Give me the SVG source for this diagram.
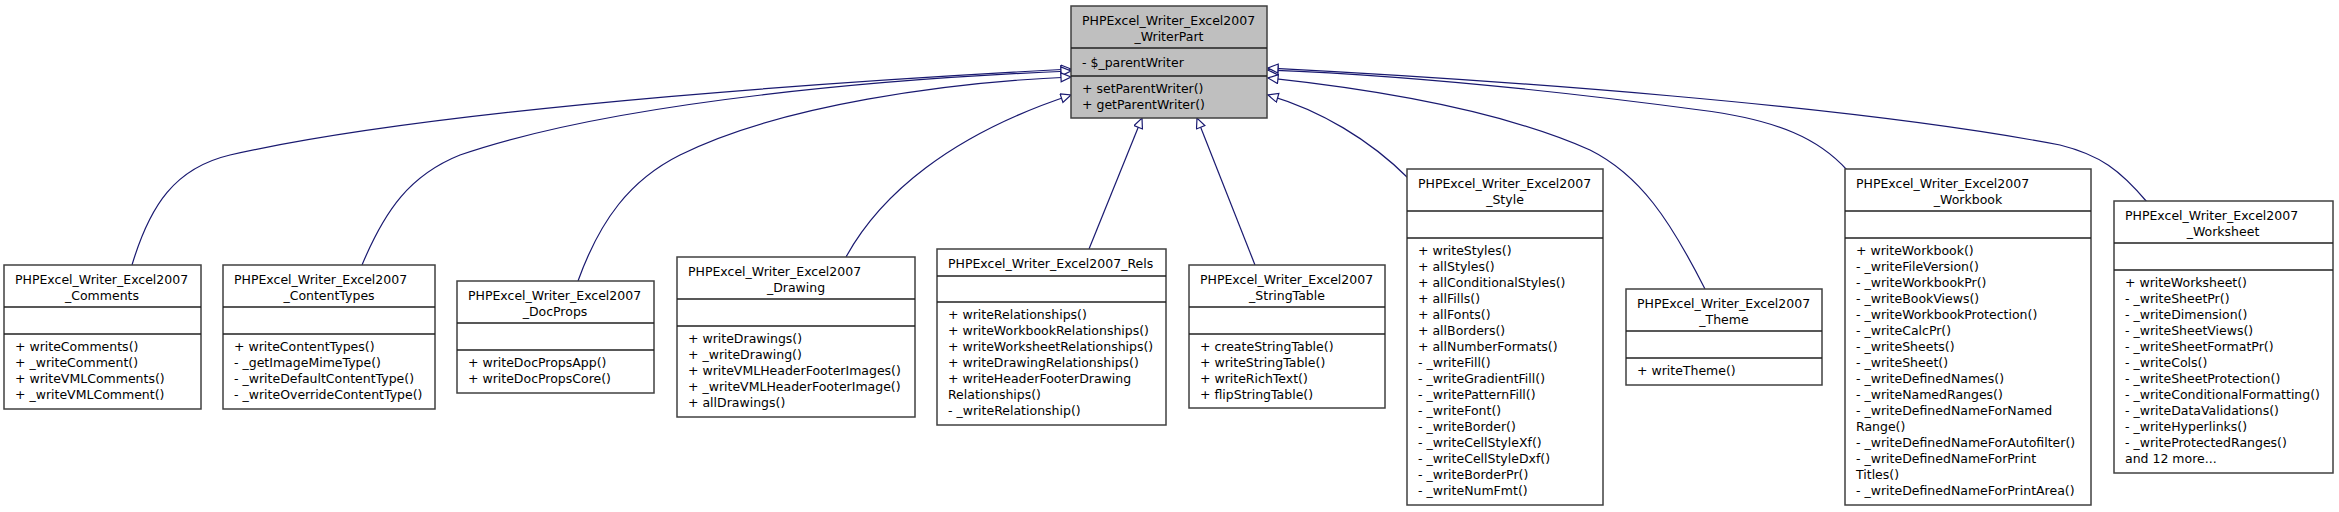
<svg xmlns="http://www.w3.org/2000/svg" width="2339" height="512" viewBox="0 0 2339 512">
<style>
text{font-family:"DejaVu Sans","Liberation Sans",sans-serif;font-size:12.5px;fill:#000}
.c{text-anchor:middle}
.box{fill:#fff;stroke:#404040;stroke-width:1.5}
.base{fill:#bfbfbf}
.sep{stroke:#202020;stroke-width:1.5}
.e{fill:none;stroke:#191970;stroke-width:1.2;marker-end:url(#tri)}
</style>
<defs>
<marker id="tri" markerUnits="userSpaceOnUse" markerWidth="14" markerHeight="12" refX="11" refY="5" orient="auto">
<path d="M1,0.5 L11,5 L1,9.5 Z" fill="#fff" stroke="#191970" stroke-width="1.2"/>
</marker>
</defs>
<g id="connectors">
<path class="e" d="M132,265 C150,205 175,168 230,155 C450,105 900,78 1071,69"/>
<path class="e" d="M362,265 C385,210 410,175 460,155 C620,100 900,78 1071,71"/>
<path class="e" d="M578,281 C600,220 630,180 680,155 C780,105 950,82 1071,77"/>
<path class="e" d="M846,257 C880,195 950,135 1071,95"/>
<path class="e" d="M1089,249 L1142,118"/>
<path class="e" d="M1255,265 L1197,118"/>
<path class="e" d="M1408,178 C1370,140 1320,110 1268,95"/>
<path class="e" d="M1705,289 C1670,220 1640,175 1590,150 C1500,110 1380,90 1268,78"/>
<path class="e" d="M1847,170 C1820,140 1780,120 1700,110 C1550,90 1400,75 1268,70"/>
<path class="e" d="M2147,202 C2120,170 2100,155 2060,145 C1850,105 1500,80 1268,68"/>
</g>
<g id="WriterPart">
<rect class="box base" x="1071" y="6" width="196" height="112"/>
<line class="sep" x1="1071" y1="48" x2="1267" y2="48"/><line class="sep" x1="1071" y1="76" x2="1267" y2="76"/>
<text x="1082" y="24.5">PHPExcel_Writer_Excel2007</text><text class="c" x="1169" y="40.5">_WriterPart</text>
<text x="1082" y="67">- $_parentWriter</text>
<text x="1082" y="93">+ setParentWriter()</text><text x="1082" y="109">+ getParentWriter()</text>
</g>
<g id="Comments">
<rect class="box" x="4" y="265" width="197" height="144"/>
<line class="sep" x1="4" y1="307" x2="201" y2="307"/><line class="sep" x1="4" y1="334" x2="201" y2="334"/>
<text x="15" y="283.5">PHPExcel_Writer_Excel2007</text><text class="c" x="102" y="299.5">_Comments</text>
<text x="15" y="350.5">+ writeComments()</text><text x="15" y="366.5">+ _writeComment()</text><text x="15" y="382.5">+ writeVMLComments()</text><text x="15" y="398.5">+ _writeVMLComment()</text>
</g>
<g id="ContentTypes">
<rect class="box" x="223" y="265" width="212" height="144"/>
<line class="sep" x1="223" y1="307" x2="435" y2="307"/><line class="sep" x1="223" y1="334" x2="435" y2="334"/>
<text x="234" y="283.5">PHPExcel_Writer_Excel2007</text><text class="c" x="329" y="299.5">_ContentTypes</text>
<text x="234" y="350.5">+ writeContentTypes()</text><text x="234" y="366.5">- _getImageMimeType()</text><text x="234" y="382.5">- _writeDefaultContentType()</text><text x="234" y="398.5">- _writeOverrideContentType()</text>
</g>
<g id="DocProps">
<rect class="box" x="457" y="281" width="197" height="112"/>
<line class="sep" x1="457" y1="323" x2="654" y2="323"/><line class="sep" x1="457" y1="350" x2="654" y2="350"/>
<text x="468" y="299.5">PHPExcel_Writer_Excel2007</text><text class="c" x="555" y="315.5">_DocProps</text>
<text x="468" y="366.5">+ writeDocPropsApp()</text><text x="468" y="382.5">+ writeDocPropsCore()</text>
</g>
<g id="Drawing">
<rect class="box" x="677" y="257" width="238" height="160"/>
<line class="sep" x1="677" y1="299" x2="915" y2="299"/><line class="sep" x1="677" y1="326" x2="915" y2="326"/>
<text x="688" y="275.5">PHPExcel_Writer_Excel2007</text><text class="c" x="796" y="291.5">_Drawing</text>
<text x="688" y="342.5">+ writeDrawings()</text><text x="688" y="358.5">+ _writeDrawing()</text><text x="688" y="374.5">+ writeVMLHeaderFooterImages()</text><text x="688" y="390.5">+ _writeVMLHeaderFooterImage()</text><text x="688" y="406.5">+ allDrawings()</text>
</g>
<g id="Rels">
<rect class="box" x="937" y="249" width="229" height="176"/>
<line class="sep" x1="937" y1="276" x2="1166" y2="276"/><line class="sep" x1="937" y1="302" x2="1166" y2="302"/>
<text x="948" y="267.5">PHPExcel_Writer_Excel2007_Rels</text>
<text x="948" y="318.5">+ writeRelationships()</text><text x="948" y="334.5">+ writeWorkbookRelationships()</text><text x="948" y="350.5">+ writeWorksheetRelationships()</text><text x="948" y="366.5">+ writeDrawingRelationships()</text><text x="948" y="382.5">+ writeHeaderFooterDrawing</text><text x="948" y="398.5">Relationships()</text><text x="948" y="414.5">- _writeRelationship()</text>
</g>
<g id="StringTable">
<rect class="box" x="1189" y="265" width="196" height="143"/>
<line class="sep" x1="1189" y1="307" x2="1385" y2="307"/><line class="sep" x1="1189" y1="334" x2="1385" y2="334"/>
<text x="1200" y="283.5">PHPExcel_Writer_Excel2007</text><text class="c" x="1287" y="299.5">_StringTable</text>
<text x="1200" y="350.5">+ createStringTable()</text><text x="1200" y="366.5">+ writeStringTable()</text><text x="1200" y="382.5">+ writeRichText()</text><text x="1200" y="398.5">+ flipStringTable()</text>
</g>
<g id="Style">
<rect class="box" x="1407" y="169" width="196" height="336"/>
<line class="sep" x1="1407" y1="211" x2="1603" y2="211"/><line class="sep" x1="1407" y1="238" x2="1603" y2="238"/>
<text x="1418" y="187.5">PHPExcel_Writer_Excel2007</text><text class="c" x="1505" y="203.5">_Style</text>
<text x="1418" y="254.5">+ writeStyles()</text><text x="1418" y="270.5">+ allStyles()</text><text x="1418" y="286.5">+ allConditionalStyles()</text><text x="1418" y="302.5">+ allFills()</text><text x="1418" y="318.5">+ allFonts()</text><text x="1418" y="334.5">+ allBorders()</text><text x="1418" y="350.5">+ allNumberFormats()</text><text x="1418" y="366.5">- _writeFill()</text><text x="1418" y="382.5">- _writeGradientFill()</text><text x="1418" y="398.5">- _writePatternFill()</text><text x="1418" y="414.5">- _writeFont()</text><text x="1418" y="430.5">- _writeBorder()</text><text x="1418" y="446.5">- _writeCellStyleXf()</text><text x="1418" y="462.5">- _writeCellStyleDxf()</text><text x="1418" y="478.5">- _writeBorderPr()</text><text x="1418" y="494.5">- _writeNumFmt()</text>
</g>
<g id="Theme">
<rect class="box" x="1626" y="289" width="196" height="96"/>
<line class="sep" x1="1626" y1="331" x2="1822" y2="331"/><line class="sep" x1="1626" y1="358" x2="1822" y2="358"/>
<text x="1637" y="307.5">PHPExcel_Writer_Excel2007</text><text class="c" x="1724" y="323.5">_Theme</text>
<text x="1637" y="374.5">+ writeTheme()</text>
</g>
<g id="Workbook">
<rect class="box" x="1845" y="169" width="246" height="336"/>
<line class="sep" x1="1845" y1="211" x2="2091" y2="211"/><line class="sep" x1="1845" y1="238" x2="2091" y2="238"/>
<text x="1856" y="187.5">PHPExcel_Writer_Excel2007</text><text class="c" x="1968" y="203.5">_Workbook</text>
<text x="1856" y="254.5">+ writeWorkbook()</text><text x="1856" y="270.5">- _writeFileVersion()</text><text x="1856" y="286.5">- _writeWorkbookPr()</text><text x="1856" y="302.5">- _writeBookViews()</text><text x="1856" y="318.5">- _writeWorkbookProtection()</text><text x="1856" y="334.5">- _writeCalcPr()</text><text x="1856" y="350.5">- _writeSheets()</text><text x="1856" y="366.5">- _writeSheet()</text><text x="1856" y="382.5">- _writeDefinedNames()</text><text x="1856" y="398.5">- _writeNamedRanges()</text><text x="1856" y="414.5">- _writeDefinedNameForNamed</text><text x="1856" y="430.5">Range()</text><text x="1856" y="446.5">- _writeDefinedNameForAutofilter()</text><text x="1856" y="462.5">- _writeDefinedNameForPrint</text><text x="1856" y="478.5">Titles()</text><text x="1856" y="494.5">- _writeDefinedNameForPrintArea()</text>
</g>
<g id="Worksheet">
<rect class="box" x="2114" y="201" width="219" height="272"/>
<line class="sep" x1="2114" y1="243" x2="2333" y2="243"/><line class="sep" x1="2114" y1="270" x2="2333" y2="270"/>
<text x="2125" y="219.5">PHPExcel_Writer_Excel2007</text><text class="c" x="2223" y="235.5">_Worksheet</text>
<text x="2125" y="286.5">+ writeWorksheet()</text><text x="2125" y="302.5">- _writeSheetPr()</text><text x="2125" y="318.5">- _writeDimension()</text><text x="2125" y="334.5">- _writeSheetViews()</text><text x="2125" y="350.5">- _writeSheetFormatPr()</text><text x="2125" y="366.5">- _writeCols()</text><text x="2125" y="382.5">- _writeSheetProtection()</text><text x="2125" y="398.5">- _writeConditionalFormatting()</text><text x="2125" y="414.5">- _writeDataValidations()</text><text x="2125" y="430.5">- _writeHyperlinks()</text><text x="2125" y="446.5">- _writeProtectedRanges()</text><text x="2125" y="462.5">and 12 more...</text>
</g>
</svg>
